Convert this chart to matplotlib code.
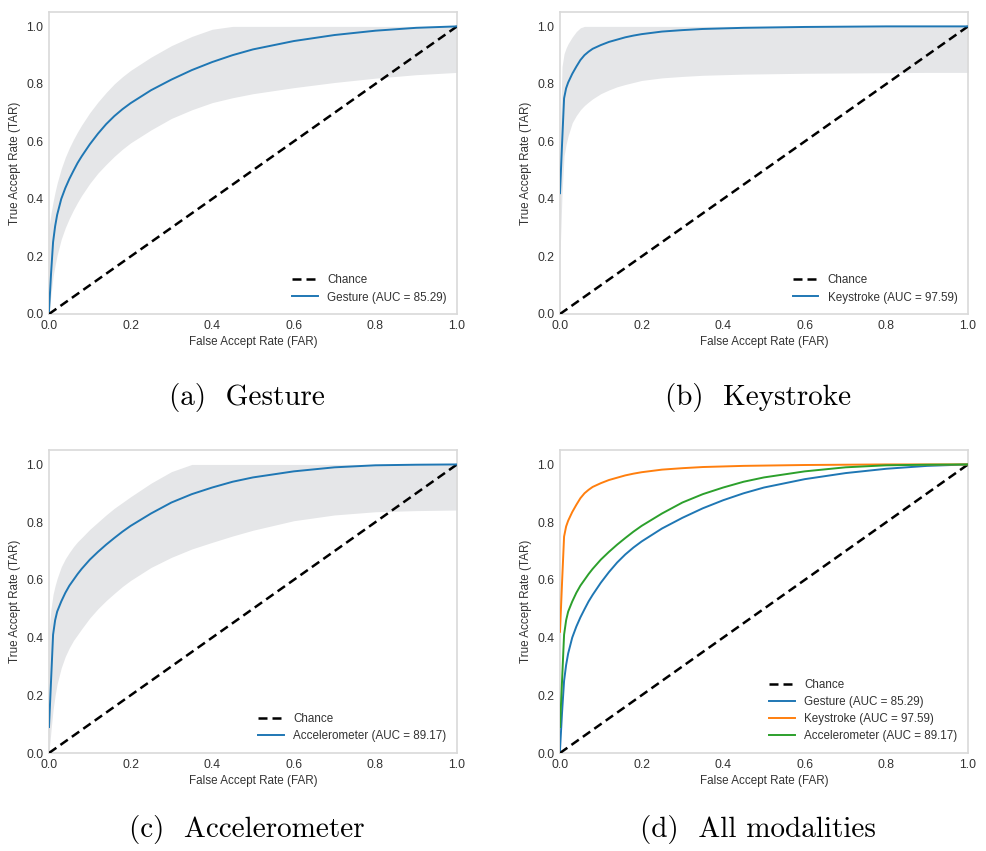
import matplotlib
matplotlib.use("Agg")
import matplotlib.pyplot as plt

# ---------------- data ----------------
far = [0.0, 0.005, 0.01, 0.015, 0.02, 0.03, 0.04, 0.05, 0.06, 0.07, 0.08,
       0.1, 0.12, 0.14, 0.16, 0.18, 0.2, 0.25, 0.3, 0.35, 0.4, 0.45, 0.5,
       0.6, 0.7, 0.8, 0.9, 1.0]

gesture_tar = [0.01, 0.14, 0.25, 0.305, 0.345, 0.40, 0.438, 0.47, 0.498, 0.525, 0.548,
               0.59, 0.627, 0.66, 0.688, 0.712, 0.733, 0.778, 0.815, 0.848, 0.876, 0.90, 0.92,
               0.949, 0.97, 0.985, 0.995, 1.0]
gesture_upper = [0.30, 0.35, 0.39, 0.425, 0.455, 0.505, 0.545, 0.578, 0.607, 0.633, 0.657,
                 0.70, 0.737, 0.77, 0.80, 0.825, 0.847, 0.893, 0.933, 0.965, 0.99, 1.0, 1.0,
                 1.0, 1.0, 1.0, 1.0, 1.0]
gesture_lower = [0.0, 0.07, 0.13, 0.17, 0.205, 0.26, 0.30, 0.333, 0.362, 0.388, 0.412,
                 0.454, 0.49, 0.52, 0.548, 0.573, 0.595, 0.64, 0.68, 0.71, 0.735, 0.752, 0.766,
                 0.787, 0.805, 0.82, 0.832, 0.84]

keystroke_tar = [0.42, 0.59, 0.75, 0.785, 0.805, 0.835, 0.86, 0.883, 0.90, 0.912, 0.922,
                 0.935, 0.946, 0.954, 0.962, 0.968, 0.973, 0.982, 0.987, 0.991, 0.993, 0.995, 0.996,
                 0.998, 0.999, 1.0, 1.0, 1.0]
keystroke_upper = [0.60, 0.86, 0.905, 0.925, 0.94, 0.963, 0.982, 0.995, 1.0, 1.0, 1.0,
                   1.0, 1.0, 1.0, 1.0, 1.0, 1.0, 1.0, 1.0, 1.0, 1.0, 1.0, 1.0,
                   1.0, 1.0, 1.0, 1.0, 1.0]
keystroke_lower = [0.20, 0.42, 0.55, 0.59, 0.62, 0.665, 0.69, 0.71, 0.725, 0.737, 0.748,
                   0.766, 0.779, 0.79, 0.798, 0.805, 0.812, 0.821, 0.826, 0.83, 0.832, 0.834, 0.835,
                   0.837, 0.838, 0.839, 0.84, 0.84]

accel_tar = [0.09, 0.25, 0.41, 0.46, 0.49, 0.525, 0.555, 0.58, 0.60, 0.62, 0.638,
             0.67, 0.697, 0.722, 0.745, 0.767, 0.787, 0.83, 0.868, 0.897, 0.92, 0.94, 0.955,
             0.976, 0.99, 0.997, 0.999, 1.0]
accel_upper = [0.42, 0.50, 0.55, 0.58, 0.605, 0.645, 0.673, 0.695, 0.715, 0.732, 0.746,
               0.775, 0.80, 0.825, 0.848, 0.868, 0.888, 0.935, 0.975, 1.0, 1.0, 1.0, 1.0,
               1.0, 1.0, 1.0, 1.0, 1.0]
accel_lower = [0.0, 0.08, 0.15, 0.20, 0.24, 0.295, 0.335, 0.365, 0.39, 0.41, 0.43,
               0.468, 0.50, 0.528, 0.553, 0.577, 0.598, 0.643, 0.678, 0.707, 0.73, 0.752, 0.772,
               0.805, 0.825, 0.836, 0.84, 0.842]

modalities = ["Gesture", "Keystroke", "Accelerometer"]
auc_values = [85.29, 97.59, 89.17]
captions = ["(a)  Gesture", "(b)  Keystroke", "(c)  Accelerometer", "(d)  All modalities"]
chance = [0.0, 1.0]

tars = [gesture_tar, keystroke_tar, accel_tar]
uppers = [gesture_upper, keystroke_upper, accel_upper]
lowers = [gesture_lower, keystroke_lower, accel_lower]
colors = ["#1f77b4", "#ff7f0e", "#2ca02c"]

# ---------------- figure ----------------
plt.rcParams["font.family"] = ["Liberation Sans", "DejaVu Sans"]
W, H = 987, 851
fig = plt.figure(figsize=(W / 100, H / 100), dpi=100)

def ax_rect(x0, x1, ytop, ybot):
    return [x0 / W, 1 - ybot / H, (x1 - x0) / W, (ybot - ytop) / H]

rects = [ax_rect(49, 457, 12, 314), ax_rect(560, 968, 12, 314),
         ax_rect(49, 457, 450, 753), ax_rect(560, 968, 450, 753)]
cap_pos = [(247, 398), (758, 398), (247, 830), (758, 830)]

band_color = "#e5e6e8"
spine_color = "#d9d9d9"

def style(ax):
    ax.set_xlim(0, 1)
    ax.set_ylim(0, 1.05)
    ax.set_xticks([0, 0.2, 0.4, 0.6, 0.8, 1.0])
    ax.set_yticks([0, 0.2, 0.4, 0.6, 0.8, 1.0])
    ax.tick_params(length=0, pad=4, labelsize=8.8, colors="#333333")
    for s in ax.spines.values():
        s.set_color(spine_color)
        s.set_linewidth(1.2)
    ax.set_xlabel("False Accept Rate (FAR)", fontsize=8.4, color="#333333", labelpad=3)
    ax.set_ylabel("True Accept Rate (TAR)", fontsize=8.4, color="#333333", labelpad=4)

for i in range(4):
    ax = fig.add_axes(rects[i])
    ax.plot(chance, chance, color="black", lw=1.8, dashes=(3.6, 2.0), label="Chance",
            zorder=3)
    if i < 3:
        ax.fill_between(far, lowers[i], uppers[i], color=band_color, lw=0, zorder=1)
        ax.plot(far, tars[i], color=colors[0], lw=1.4, zorder=4,
                label=f"{modalities[i]} (AUC = {auc_values[i]:.2f})")
    else:
        for j in range(3):
            ax.plot(far, tars[j], color=colors[j], lw=1.4, zorder=4,
                    label=f"{modalities[j]} (AUC = {auc_values[j]:.2f})")
    style(ax)
    leg = ax.legend(loc="lower right", frameon=False, fontsize=8.4, handlelength=2.2,
                    labelspacing=0.45)
    for t in leg.get_texts():
        t.set_color("#333333")
    fig.text(cap_pos[i][0] / W, 1 - cap_pos[i][1] / H, captions[i], family="cmr10",
             fontsize=21, ha="center", va="center")

fig.savefig("out.png", dpi=100)
